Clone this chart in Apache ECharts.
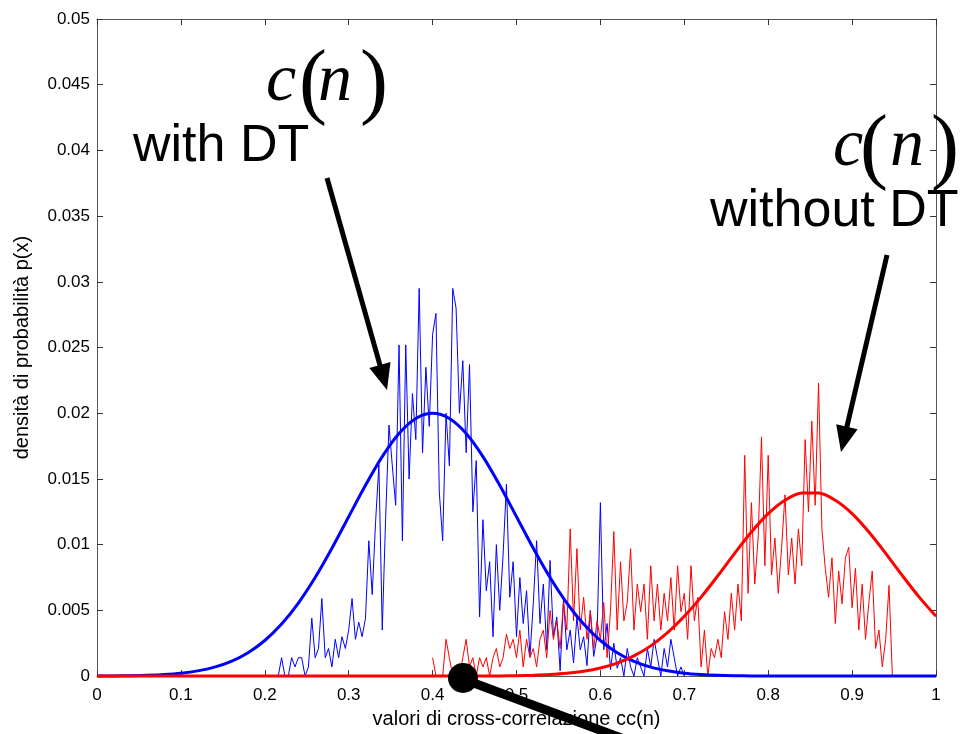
<!DOCTYPE html>
<html>
<head>
<meta charset="utf-8">
<script src="https://cdn.jsdelivr.net/npm/echarts@6/dist/echarts.min.js"></script>
<style>
  html, body { margin: 0; padding: 0; background: #fff; }
  #chart { width: 962px; height: 734px; }
</style>
</head>
<body>
<div id="chart"></div>
<script>
// grid of the fitted curves (x values)
const curveX = [0, 0.02, 0.04, 0.06, 0.08, 0.1, 0.12, 0.14, 0.16, 0.18, 0.2, 0.22, 0.24, 0.26, 0.28, 0.3,
  0.32, 0.34, 0.36, 0.38, 0.4, 0.42, 0.44, 0.46, 0.48, 0.5, 0.52, 0.54, 0.56, 0.58, 0.6, 0.62, 0.64, 0.66,
  0.68, 0.7, 0.72, 0.74, 0.76, 0.78, 0.8, 0.82, 0.84, 0.86, 0.88, 0.9, 0.92, 0.94, 0.96, 0.98, 1];

// fitted density, with DT (blue)
const blueFit = [0.0000067, 0.0000146, 0.0000306, 0.0000617, 0.00012, 0.000222, 0.000397, 0.00068, 0.00112,
  0.00178, 0.00271, 0.00396, 0.00556, 0.0075, 0.00973, 0.01213, 0.01452, 0.0167, 0.01846, 0.0196, 0.02,
  0.0196, 0.01846, 0.0167, 0.01452, 0.01213, 0.00973, 0.0075, 0.00556, 0.00396, 0.00271, 0.00178, 0.00112,
  0.00068, 0.0004, 0.00022, 0.00012, 0.00006, 0.00003, 0.000015, 0.000007, 0, 0, 0, 0, 0, 0, 0, 0, 0, 0];

// fitted density, without DT (red)
const redFit = [0, 0, 0, 0, 0, 0, 0, 0, 0, 0, 0, 0, 0, 0, 0, 0, 0, 0, 0, 0, 0, 0, 0,
  0.0000068, 0.0000149, 0.0000306, 0.0000605, 0.000115, 0.000209, 0.000366, 0.000615, 0.000994, 0.00154,
  0.0023, 0.0033, 0.00455, 0.00601, 0.00764, 0.00934, 0.01096, 0.01236, 0.01338, 0.01393, 0.01393, 0.01338,
  0.01236, 0.01096, 0.00934, 0.00764, 0.00601, 0.00455];

// measured histograms (bin width 0.004)
const binStep = 0.004;
const blueHistStart = 0.216;
const blueHist = [0, 0.0014, 0, 0, 0.0014, 0.0007, 0.0014, 0.0014, 0, 0.0007, 0.0044, 0.0014, 0.0021, 0.0059,
  0.0014, 0.0021, 0.0007, 0.0028, 0.0014, 0.003, 0.0021, 0.0035, 0.0059, 0.0028, 0.0041, 0.003, 0.0044,
  0.0103, 0.0062, 0.0117, 0.0161, 0.0035, 0.012, 0.0191, 0.016, 0.013, 0.0252, 0.0103, 0.0252, 0.015,
  0.0215, 0.018, 0.0295, 0.017, 0.0235, 0.019, 0.026, 0.0276, 0.014, 0.0103, 0.02, 0.016, 0.0295, 0.028,
  0.02, 0.024, 0.017, 0.0237, 0.0125, 0.0164, 0.0045, 0.0119, 0.0065, 0.0087, 0.003, 0.01, 0.005, 0.0092,
  0.0146, 0.006, 0.0087, 0.003, 0.0075, 0.004, 0.0065, 0.0015, 0.0055, 0.0103, 0.004, 0.007, 0.002, 0.0088,
  0.003, 0.0045, 0.0004, 0.0058, 0.002, 0.0035, 0.001, 0.0045, 0.002, 0.003, 0.0008, 0.005, 0.0015, 0.003,
  0.0132, 0.002, 0.004, 0.0005, 0.0025, 0.0006, 0.0014, 0, 0.0021, 0.0007, 0, 0.0014, 0.0007, 0, 0.0021,
  0.0007, 0.0028, 0.0014, 0, 0.0021, 0.0007, 0.0028, 0.0014, 0, 0.0007, 0];
const redHistStart = 0.4;
const redHist = [0.0014, 0, 0, 0, 0.0028, 0.0014, 0, 0.0007, 0, 0.0014, 0.0028, 0.0007, 0.0014, 0, 0.0014,
  0.0007, 0.0014, 0, 0.0014, 0.0021, 0.0007, 0.0014, 0.0032, 0.0021, 0.0028, 0.0014, 0.0035, 0.0007, 0.0028,
  0.0014, 0.0021, 0.0007, 0.0028, 0.0035, 0.0014, 0.005, 0.0028, 0.0042, 0.0021, 0.0056, 0.0035, 0.0112,
  0.0042, 0.0097, 0.0035, 0.006, 0.0028, 0.0049, 0.0021, 0.0042, 0.0028, 0.0056, 0.0014, 0.0049, 0.011,
  0.0035, 0.0087, 0.0042, 0.0056, 0.0097, 0.0035, 0.007, 0.0049, 0.007, 0.0028, 0.0084, 0.0042, 0.007,
  0.0035, 0.0063, 0.0042, 0.0075, 0.0035, 0.0084, 0.0049, 0.0063, 0.0028, 0.0084, 0.0042, 0.006, 0.0007,
  0.0035, 0, 0.0021, 0.0014, 0.0028, 0.0014, 0.0049, 0.0028, 0.0063, 0.0035, 0.007, 0.0042, 0.0168, 0.0063,
  0.0132, 0.007, 0.0105, 0.0182, 0.0084, 0.0168, 0.0077, 0.0105, 0.0063, 0.0098, 0.0138, 0.0077, 0.0105,
  0.007, 0.0112, 0.0084, 0.018, 0.0125, 0.0194, 0.013, 0.0223, 0.0112, 0.0082, 0.006, 0.009, 0.004, 0.008,
  0.0055, 0.009, 0.0098, 0.0052, 0.0082, 0.0035, 0.007, 0.0028, 0.0056, 0.008, 0.0021, 0.0035, 0.0007,
  0.0028, 0.0069, 0];

const pairs = (xs, ys) => xs.map((x, i) => [x, ys[i]]);
const histPairs = (start, ys) => ys.map((y, i) => [+(start + i * binStep).toFixed(3), y]);

const fontSans = 'Arial, "Liberation Sans", sans-serif';
const fontSerif = '"Times New Roman", "Liberation Serif", serif';
const tickFmt = v => String(+v.toFixed(4));

function arrow(x1, y1, x2, y2) {
  const dx = x2 - x1, dy = y2 - y1, L = Math.hypot(dx, dy);
  const ux = dx / L, uy = dy / L, head = 26, half = 11;
  const bx = x2 - ux * head, by = y2 - uy * head;
  return [
    { type: 'line', z: 100, shape: { x1: x1, y1: y1, x2: bx + ux * 2, y2: by + uy * 2 }, style: { stroke: '#000', lineWidth: 5 } },
    { type: 'polygon', z: 100, shape: { points: [[x2, y2], [bx - uy * half, by + ux * half], [bx + uy * half, by - ux * half]] }, style: { fill: '#000' } }
  ];
}

function glyph(text, x, y, size, italic) {
  return {
    type: 'text', z: 100,
    style: {
      text: text, x: x, y: y, fill: '#000',
      font: (italic ? 'italic ' : '') + size + 'px ' + fontSerif,
      align: 'left', verticalAlign: 'middle'
    }
  };
}

function label(text, x, y) {
  return {
    type: 'text', z: 100,
    style: { text: text, x: x, y: y, fill: '#000', font: '52px ' + fontSans, align: 'left', verticalAlign: 'middle' }
  };
}

const chart = echarts.init(document.getElementById('chart'));

const axisCommon = {
  type: 'value',
  splitLine: { show: false },
  axisLine: { show: true, onZero: false, lineStyle: { color: '#555', width: 1 } },
  axisTick: { show: true, inside: true, length: 6, lineStyle: { color: '#333' } }
};

chart.setOption({
  animation: false,
  backgroundColor: '#fff',
  grid: { left: 97, right: 26, top: 19, bottom: 54 },
  xAxis: [
    Object.assign({}, axisCommon, {
      min: 0, max: 1, interval: 0.1, position: 'bottom',
      name: 'valori di cross-correlazione cc(n)', nameLocation: 'middle', nameGap: 32,
      nameTextStyle: { fontFamily: fontSans, fontSize: 20, color: '#000' },
      axisLabel: { fontFamily: fontSans, fontSize: 17, color: '#000', margin: 11, formatter: tickFmt }
    }),
    Object.assign({}, axisCommon, {
      min: 0, max: 1, interval: 0.1, position: 'top', axisLabel: { show: false }
    })
  ],
  yAxis: [
    Object.assign({}, axisCommon, {
      min: 0, max: 0.05, interval: 0.005, position: 'left',
      name: 'densità di probabilità p(x)', nameLocation: 'middle', nameGap: 65,
      nameTextStyle: { fontFamily: fontSans, fontSize: 20, color: '#000' },
      axisLabel: { fontFamily: fontSans, fontSize: 17, color: '#000', margin: 7, formatter: tickFmt }
    }),
    Object.assign({}, axisCommon, {
      min: 0, max: 0.05, interval: 0.005, position: 'right', axisLabel: { show: false }
    })
  ],
  series: [
    {
      name: 'hist with DT', type: 'line', data: histPairs(blueHistStart, blueHist),
      showSymbol: false, lineStyle: { color: '#0000ff', width: 1 }
    },
    {
      name: 'hist without DT', type: 'line', data: histPairs(redHistStart, redHist),
      showSymbol: false, lineStyle: { color: '#ff0000', width: 1 }
    },
    {
      name: 'fit with DT', type: 'line', data: pairs(curveX, blueFit), smooth: 0.3, clip: false,
      showSymbol: false, lineStyle: { color: '#0000ff', width: 3 }
    },
    {
      name: 'fit without DT', type: 'line', data: pairs(curveX, redFit), smooth: 0.3, clip: false,
      showSymbol: false, lineStyle: { color: '#ff0000', width: 3 }
    }
  ],
  graphic: [].concat(
    [
      glyph('c', 266, 82, 68, true),
      glyph('(', 299, 86, 84, false),
      glyph('n', 318, 82, 68, true),
      glyph(')', 360, 86, 84, false),
      label('with DT', 133, 147),
      glyph('c', 833, 147, 68, true),
      glyph('(', 860, 151, 84, false),
      glyph('n', 890, 147, 68, true),
      glyph(')', 931, 151, 84, false),
      label('without DT', 710, 212)
    ],
    arrow(327, 178, 387, 390),
    arrow(887, 255, 841, 452),
    [
      { type: 'line', z: 100, shape: { x1: 463, y1: 679, x2: 640, y2: 745 }, style: { stroke: '#000', lineWidth: 9 } },
      { type: 'circle', z: 101, shape: { cx: 463, cy: 678, r: 15 }, style: { fill: '#000' } }
    ]
  )
});
</script>
</body>
</html>
